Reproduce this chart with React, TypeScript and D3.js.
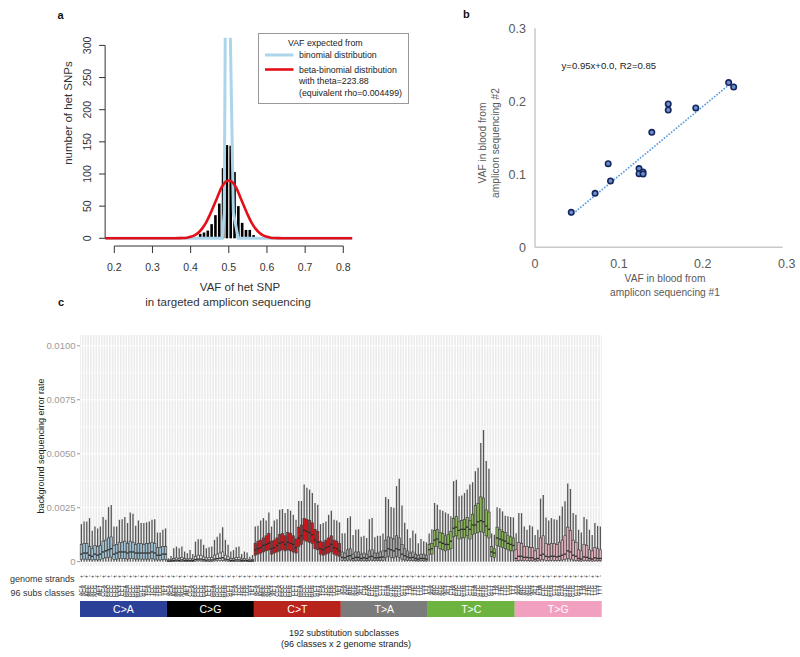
import React, { useEffect, useRef } from "react";
import * as d3 from "d3";

const FONT = "'Liberation Sans', Arial, Helvetica, sans-serif";

// ---- panel a: VAF histogram of het SNPs ----
const histVaf = [0.425, 0.435, 0.445, 0.455, 0.465, 0.475, 0.485, 0.495, 0.505, 0.515, 0.525, 0.535, 0.545, 0.555, 0.565];
const histCounts = [7, 9, 12, 22, 36, 54, 109, 145, 144, 103, 50, 24, 13, 13, 5];
const binomVaf = [0.176, 0.483, 0.488, 0.491, 0.497, 0.503, 0.512, 0.5245, 0.824];
const binomCount = [0, 0, 40, 350, 2000, 350, 40, 0, 0];
const betaVaf = [0.176, 0.36, 0.37, 0.38, 0.39, 0.4, 0.41, 0.42, 0.43, 0.44, 0.45, 0.46, 0.47, 0.48, 0.49, 0.5,
  0.51, 0.52, 0.53, 0.54, 0.55, 0.56, 0.57, 0.58, 0.59, 0.6, 0.61, 0.62, 0.63, 0.64, 0.824];
const betaCount = [0, 0.1, 0.2, 0.4, 0.9, 2.3, 4.7, 8.7, 15, 24, 36, 50, 64, 78, 87, 90,
  87, 78, 64, 50, 36, 24, 15, 8.7, 4.7, 2.3, 0.9, 0.4, 0.2, 0.1, 0];
const vafTicks = [0.2, 0.3, 0.4, 0.5, 0.6, 0.7, 0.8];
const countTicks = [0, 50, 100, 150, 200, 250, 300];
const legendLines = ["binomial distribution", "beta-binomial distribution", "with theta=223.88", "(equivalent rho=0.004499)"];

// ---- panel b: replicate amplicon VAFs ----
const vafRun1 = [0.0432, 0.0716, 0.0872, 0.09, 0.124, 0.124, 0.1288, 0.1288, 0.1392, 0.1588, 0.1588, 0.1916, 0.2308, 0.2368];
const vafRun2 = [0.0479, 0.074, 0.1146, 0.0909, 0.1078, 0.1009, 0.1032, 0.1005, 0.1575, 0.1963, 0.1881, 0.1909, 0.2256, 0.2196];
const trendSlope = 0.95;
const trendIntercept = 0.003;
const scatterTicks = [0, 0.1, 0.2, 0.3];

// ---- panel c: background error rate per substitution subclass (values x 1e-3) ----
const subTypes = ["C>A", "C>G", "C>T", "T>A", "T>C", "T>G"];
const stripColors = ["#2b4199", "#000000", "#b8231b", "#7b7b7b", "#6cb33f", "#f2a0c0"];
const boxFills = ["#a3c2d3", "#e4e4e4", "#c8171d", "#a6a6a6", "#8ab55a", "#e2b3bd"];
const rateTicks = [0, 0.0025, 0.005, 0.0075, 0.01];
const rateTickLabels = ["0", "0.0025", "0.0050", "0.0075", "0.0100"];
const strands = ["+", "-"];
const bases = ["A", "C", "G", "T"];

const caUpper = [1.74, 1.86, 1.86, 2.02, 1.43, 1.63, 1.54, 1.63, 2.07, 1.94, 2.53, 2.62, 1.63, 1.63, 1.94, 1.96, 2.07, 1.79, 2.28, 2.22, 1.66, 1.91, 1.79, 1.79, 1.82, 1.86, 1.94, 1.97, 1.35, 1.35, 1.48, 1.54];
const caQ3 = [0.8, 0.85, 0.85, 0.7, 0.6, 0.75, 0.7, 0.75, 0.95, 1.0, 1.1, 1.15, 0.75, 0.8, 0.9, 0.9, 0.95, 0.85, 0.95, 0.9, 0.8, 0.85, 0.85, 0.8, 0.85, 0.85, 0.9, 0.85, 0.65, 0.65, 0.7, 0.7];
const caMed = [0.35, 0.4, 0.4, 0.3, 0.25, 0.35, 0.3, 0.35, 0.45, 0.5, 0.55, 0.6, 0.35, 0.4, 0.45, 0.45, 0.45, 0.4, 0.45, 0.45, 0.4, 0.4, 0.4, 0.4, 0.4, 0.4, 0.45, 0.4, 0.3, 0.3, 0.35, 0.35];
const caQ1 = [0.1, 0.12, 0.12, 0.1, 0.08, 0.1, 0.08, 0.1, 0.15, 0.18, 0.2, 0.22, 0.1, 0.12, 0.15, 0.15, 0.15, 0.12, 0.15, 0.15, 0.12, 0.12, 0.12, 0.12, 0.12, 0.12, 0.15, 0.12, 0.08, 0.08, 0.1, 0.1];

const cgUpper = [0.16, 0.26, 0.62, 0.7, 0.62, 0.7, 0.47, 0.39, 0.54, 0.36, 0.93, 1.04, 1.04, 0.78, 0.62, 0.67, 0.7, 1.01, 1.16, 1.32, 1.6, 1.01, 0.78, 0.47, 0.54, 0.67, 0.7, 0.36, 0.47, 0.42, 0.23, 0.31];
const cgQ3 = [0.08, 0.1, 0.15, 0.18, 0.15, 0.2, 0.15, 0.12, 0.15, 0.12, 0.25, 0.3, 0.3, 0.22, 0.18, 0.2, 0.2, 0.3, 0.35, 0.4, 0.45, 0.3, 0.22, 0.15, 0.15, 0.2, 0.2, 0.12, 0.15, 0.12, 0.08, 0.1];
const cgMed = [0.03, 0.04, 0.06, 0.07, 0.06, 0.08, 0.06, 0.05, 0.06, 0.05, 0.1, 0.12, 0.12, 0.09, 0.07, 0.08, 0.08, 0.12, 0.14, 0.16, 0.18, 0.12, 0.09, 0.06, 0.06, 0.08, 0.08, 0.05, 0.06, 0.05, 0.03, 0.04];
const cgQ1 = [0.01, 0.01, 0.02, 0.02, 0.02, 0.02, 0.02, 0.01, 0.02, 0.01, 0.03, 0.04, 0.04, 0.03, 0.02, 0.02, 0.02, 0.04, 0.05, 0.05, 0.06, 0.04, 0.03, 0.02, 0.02, 0.02, 0.02, 0.01, 0.02, 0.01, 0.01, 0.01];

const ctUpper = [1.63, 1.66, 1.91, 2.02, 1.91, 2.28, 1.63, 1.91, 1.97, 2.41, 2.44, 2.25, 2.44, 2.36, 2.17, 1.94, 2.81, 2.81, 3.57, 3.42, 3.34, 3.18, 2.72, 2.64, 1.74, 1.79, 1.86, 2.17, 2.36, 1.94, 1.91, 1.82];
const ctQ3 = [0.85, 0.95, 1.0, 1.1, 1.2, 1.3, 0.95, 1.0, 1.1, 1.25, 1.3, 1.2, 1.35, 1.3, 1.2, 1.05, 1.6, 1.7, 2.0, 1.95, 1.9, 1.8, 1.5, 1.4, 0.95, 0.9, 1.0, 1.1, 1.2, 1.0, 0.95, 0.85];
const ctMed = [0.55, 0.6, 0.65, 0.75, 0.8, 0.85, 0.6, 0.65, 0.75, 0.85, 0.9, 0.8, 0.9, 0.85, 0.8, 0.65, 1.1, 1.2, 1.45, 1.4, 1.35, 1.25, 1.0, 0.9, 0.6, 0.55, 0.65, 0.7, 0.8, 0.65, 0.6, 0.5];
const ctQ1 = [0.3, 0.35, 0.4, 0.45, 0.5, 0.55, 0.35, 0.4, 0.45, 0.5, 0.55, 0.5, 0.55, 0.5, 0.45, 0.4, 0.7, 0.8, 1.0, 0.95, 0.9, 0.85, 0.6, 0.55, 0.35, 0.3, 0.35, 0.4, 0.45, 0.35, 0.3, 0.25];

const taUpper = [1.32, 1.32, 2.02, 2.1, 1.24, 1.48, 1.5, 1.16, 1.2, 1.1, 1.97, 2.02, 1.13, 1.2, 1.2, 1.3, 3.0, 2.9, 2.53, 2.5, 3.5, 3.84, 2.6, 1.8, 1.5, 1.1, 1.45, 1.3, 0.85, 1.05, 0.95, 0.9];
const taQ3 = [0.45, 0.4, 0.55, 0.6, 0.35, 0.45, 0.45, 0.35, 0.4, 0.35, 0.5, 0.55, 0.4, 0.4, 0.45, 0.5, 1.0, 1.15, 1.1, 1.05, 1.2, 1.1, 0.8, 0.6, 0.5, 0.4, 0.45, 0.35, 0.3, 0.35, 0.35, 0.3];
const taMed = [0.2, 0.18, 0.25, 0.28, 0.15, 0.2, 0.2, 0.15, 0.18, 0.15, 0.22, 0.25, 0.18, 0.18, 0.2, 0.22, 0.5, 0.6, 0.55, 0.5, 0.6, 0.55, 0.35, 0.28, 0.22, 0.18, 0.2, 0.15, 0.12, 0.15, 0.15, 0.12];
const taQ1 = [0.05, 0.05, 0.07, 0.08, 0.04, 0.05, 0.05, 0.04, 0.05, 0.04, 0.06, 0.07, 0.05, 0.05, 0.05, 0.06, 0.2, 0.25, 0.2, 0.18, 0.25, 0.2, 0.12, 0.08, 0.06, 0.05, 0.05, 0.04, 0.03, 0.04, 0.04, 0.03];

const tcUpper = [1.3, 1.5, 2.72, 2.64, 2.41, 2.36, 2.28, 2.22, 2.1, 3.73, 3.8, 3.03, 3.06, 3.18, 3.34, 3.57, 3.68, 4.19, 4.35, 5.5, 6.1, 4.66, 4.3, 1.3, 1.25, 2.52, 2.48, 2.33, 2.13, 2.1, 2.07, 2.05];
const tcQ3 = [0.8, 0.85, 1.45, 1.5, 1.35, 1.3, 1.2, 1.25, 1.4, 2.0, 2.1, 1.85, 1.9, 1.95, 2.05, 1.9, 2.2, 2.6, 2.7, 3.0, 2.95, 2.4, 2.3, 0.7, 0.6, 1.6, 1.5, 1.4, 1.35, 1.2, 1.15, 1.1];
const tcMed = [0.55, 0.6, 1.0, 1.05, 0.9, 0.85, 0.8, 0.8, 0.95, 1.55, 1.6, 1.45, 1.5, 1.5, 1.6, 1.5, 1.7, 1.7, 1.85, 1.9, 1.85, 1.65, 1.5, 0.45, 0.4, 1.1, 1.05, 1.0, 0.95, 0.85, 0.8, 0.75];
const tcQ1 = [0.35, 0.35, 0.7, 0.7, 0.6, 0.55, 0.5, 0.55, 0.6, 1.15, 1.2, 1.05, 1.1, 1.1, 1.2, 1.05, 1.25, 1.3, 1.35, 1.4, 1.35, 1.2, 1.1, 0.25, 0.2, 0.75, 0.7, 0.65, 0.6, 0.55, 0.5, 0.5];

const tgUpper = [1.32, 2.25, 2.25, 1.63, 1.48, 1.69, 1.63, 1.24, 1.48, 2.92, 3.09, 2.05, 1.91, 2.02, 1.97, 1.94, 2.13, 2.56, 2.8, 3.62, 3.37, 2.25, 2.17, 1.48, 1.35, 2.07, 1.97, 1.48, 1.24, 1.79, 1.66, 1.63];
const tgQ3 = [0.55, 0.9, 0.85, 0.7, 0.7, 0.65, 0.65, 0.5, 0.6, 1.1, 1.2, 0.85, 0.8, 0.85, 0.85, 0.8, 0.9, 1.0, 1.2, 1.6, 1.45, 1.0, 0.9, 0.55, 0.5, 0.8, 0.75, 0.55, 0.5, 0.65, 0.6, 0.55];
const tgMed = [0.15, 0.25, 0.25, 0.2, 0.2, 0.18, 0.18, 0.12, 0.15, 0.3, 0.35, 0.25, 0.22, 0.25, 0.25, 0.22, 0.25, 0.3, 0.35, 0.5, 0.45, 0.3, 0.25, 0.15, 0.12, 0.22, 0.2, 0.15, 0.12, 0.18, 0.15, 0.15];
const tgQ1 = [0.04, 0.06, 0.06, 0.05, 0.05, 0.04, 0.04, 0.03, 0.04, 0.08, 0.1, 0.06, 0.05, 0.06, 0.06, 0.05, 0.06, 0.08, 0.1, 0.15, 0.12, 0.08, 0.06, 0.04, 0.03, 0.05, 0.05, 0.04, 0.03, 0.04, 0.04, 0.04];

const upperSets = [caUpper, cgUpper, ctUpper, taUpper, tcUpper, tgUpper];
const q3Sets = [caQ3, cgQ3, ctQ3, taQ3, tcQ3, tgQ3];
const medSets = [caMed, cgMed, ctMed, taMed, tcMed, tgMed];
const q1Sets = [caQ1, cgQ1, ctQ1, taQ1, tcQ1, tgQ1];
const RATE_UNIT = 0.001;

function drawHistogram(g: any) {
  const x = d3.scaleLinear().domain([0.2, 0.8]).range([114.3, 343.3]);
  const y = d3.scaleLinear().domain([0, 300]).range([238.3, 45.4]);
  const left = x(0.176), right = x(0.824), top = y(312), bottom = y(-12);

  g.append("clipPath").attr("id", "clip-a")
    .append("rect").attr("x", left).attr("y", top).attr("width", right - left).attr("height", bottom - top);
  const plot = g.append("g").attr("clip-path", "url(#clip-a)");

  plot.selectAll("rect").data(histCounts).join("rect")
    .attr("x", (d: number, i: number) => x(histVaf[i]) - 1.3)
    .attr("width", 2.6)
    .attr("y", (d: number) => y(d))
    .attr("height", (d: number) => y(0) - y(d))
    .attr("fill", "#000");

  const line = d3.line<[number, number]>().x(d => x(d[0])).y(d => y(d[1]));
  plot.append("path")
    .attr("d", line(d3.zip(binomVaf, binomCount) as any))
    .attr("fill", "none").attr("stroke", "#acd5ea").attr("stroke-width", 3);
  plot.append("path")
    .attr("d", line.curve(d3.curveMonotoneX)(d3.zip(betaVaf, betaCount) as any))
    .attr("fill", "none").attr("stroke", "#e3101a").attr("stroke-width", 2.6);

  // axes, R base style
  const ax = g.append("g").attr("font-family", FONT).attr("fill", "#333");
  ax.append("line").attr("x1", left).attr("x2", left).attr("y1", y(0)).attr("y2", y(300)).attr("stroke", "#333");
  countTicks.forEach(t => {
    ax.append("line").attr("x1", left - 6).attr("x2", left).attr("y1", y(t)).attr("y2", y(t)).attr("stroke", "#333");
    ax.append("text").attr("transform", `translate(${left - 14},${y(t)}) rotate(-90)`)
      .attr("text-anchor", "middle").attr("font-size", 10.5).text(t);
  });
  ax.append("line").attr("x1", x(0.2)).attr("x2", x(0.8)).attr("y1", bottom).attr("y2", bottom).attr("stroke", "#333");
  vafTicks.forEach(t => {
    ax.append("line").attr("x1", x(t)).attr("x2", x(t)).attr("y1", bottom).attr("y2", bottom + 7).attr("stroke", "#333");
    ax.append("text").attr("x", x(t)).attr("y", bottom + 25).attr("text-anchor", "middle")
      .attr("font-size", 10.5).text(d3.format(".1f")(t));
  });
  ax.append("text").attr("transform", `translate(72,113) rotate(-90)`).attr("text-anchor", "middle")
    .attr("font-size", 11.5).text("number of het SNPs");
  ax.append("text").attr("x", 240).attr("y", 291).attr("text-anchor", "middle").attr("font-size", 11.5).text("VAF of het SNP");
  ax.append("text").attr("x", 228).attr("y", 306).attr("text-anchor", "middle").attr("font-size", 11.5).text("in targeted amplicon sequencing");

  // legend
  const lg = g.append("g").attr("font-family", FONT).attr("font-size", 8.8).attr("fill", "#222");
  lg.append("rect").attr("x", 258.5).attr("y", 33.5).attr("width", 150).attr("height", 70)
    .attr("fill", "#fff").attr("stroke", "#999");
  lg.append("text").attr("x", 288).attr("y", 46).text("VAF expected from");
  lg.append("line").attr("x1", 265).attr("x2", 293.5).attr("y1", 55).attr("y2", 55).attr("stroke", "#acd5ea").attr("stroke-width", 3);
  lg.append("line").attr("x1", 265).attr("x2", 293.5).attr("y1", 69.5).attr("y2", 69.5).attr("stroke", "#e3101a").attr("stroke-width", 2.6);
  [58.3, 72.5, 84.3, 96].forEach((yy, i) => {
    lg.append("text").attr("x", 299).attr("y", yy).text(legendLines[i]);
  });
}

function drawScatter(g: any) {
  const x = d3.scaleLinear().domain([0, 0.3]).range([535, 786.7]);
  const y = d3.scaleLinear().domain([0, 0.3]).range([247.3, 28.3]);
  const ax = g.append("g").attr("font-family", FONT).attr("fill", "#595959");
  ax.append("line").attr("x1", x(0)).attr("x2", x(0)).attr("y1", y(0)).attr("y2", y(0.3)).attr("stroke", "#c9c9c9").attr("stroke-width", 1.5);
  ax.append("line").attr("x1", x(0)).attr("x2", 782.7).attr("y1", y(0)).attr("y2", y(0)).attr("stroke", "#c9c9c9").attr("stroke-width", 1.5);
  scatterTicks.forEach(t => {
    const lab = t === 0 ? "0" : d3.format(".1f")(t);
    ax.append("text").attr("x", 526).attr("y", y(t) + 4.5).attr("text-anchor", "end").attr("font-size", 12.5).text(lab);
    ax.append("text").attr("x", x(t)).attr("y", 267.5).attr("text-anchor", "middle").attr("font-size", 12.5).text(lab);
  });
  ax.append("text").attr("x", 665).attr("y", 281.5).attr("text-anchor", "middle").attr("font-size", 10.2).text("VAF in blood from");
  ax.append("text").attr("x", 665).attr("y", 296).attr("text-anchor", "middle").attr("font-size", 10.2).text("amplicon sequencing #1");
  ax.append("text").attr("transform", "translate(485.5,143) rotate(-90)").attr("text-anchor", "middle").attr("font-size", 10.2).text("VAF in blood from");
  ax.append("text").attr("transform", "translate(499,143) rotate(-90)").attr("text-anchor", "middle").attr("font-size", 10.2).text("amplicon sequencing #2");

  const x0 = d3.min(vafRun1)!, x1 = d3.max(vafRun1)!;
  g.append("line")
    .attr("x1", x(x0)).attr("y1", y(trendSlope * x0 + trendIntercept))
    .attr("x2", x(x1)).attr("y2", y(trendSlope * x1 + trendIntercept))
    .attr("stroke", "#5b9ae0").attr("stroke-width", 1.8).attr("stroke-dasharray", "0.1,3").attr("stroke-linecap", "round");

  g.selectAll("circle").data(vafRun1).join("circle")
    .attr("cx", (d: number) => x(d)).attr("cy", (d: number, i: number) => y(vafRun2[i])).attr("r", 2.7)
    .attr("fill", "#6d8fcf").attr("stroke", "#16275e").attr("stroke-width", 1.6);

  g.append("text").attr("x", 561.5).attr("y", 69).attr("font-family", FONT).attr("font-size", 9.6).attr("fill", "#222")
    .text(`y=${trendSlope}x+0.0, R2=0.85`);
}

function drawBoxes(g: any) {
  const n = subTypes.length * 32;
  const x = d3.scaleBand<number>().domain(d3.range(n)).range([80, 601.7]);
  const y = d3.scaleLinear().domain([-0.0002, 0.0105]).range([566, 335]);
  const bw = x.bandwidth();
  const cx = (k: number) => x(k)! + bw / 2;
  const half = bw * 0.44;

  g.append("rect").attr("x", 80).attr("y", 335).attr("width", 521.7).attr("height", 231).attr("fill", "#ebebeb");
  [0.00125, 0.00375, 0.00625, 0.00875].forEach(v => {
    g.append("line").attr("x1", 80).attr("x2", 601.7).attr("y1", y(v)).attr("y2", y(v)).attr("stroke", "#fff").attr("stroke-width", 0.5);
  });
  rateTicks.forEach(v => {
    g.append("line").attr("x1", 80).attr("x2", 601.7).attr("y1", y(v)).attr("y2", y(v)).attr("stroke", "#fff").attr("stroke-width", 1.1);
  });
  g.append("g").selectAll("line").data(d3.range(n)).join("line")
    .attr("x1", (k: number) => cx(k)).attr("x2", (k: number) => cx(k)).attr("y1", 335).attr("y2", 566)
    .attr("stroke", "#fff").attr("stroke-width", 1.1);

  // y axis
  const ax = g.append("g").attr("font-family", FONT);
  rateTicks.forEach((v, i) => {
    ax.append("line").attr("x1", 77).attr("x2", 80).attr("y1", y(v)).attr("y2", y(v)).attr("stroke", "#999");
    ax.append("text").attr("x", 75.5).attr("y", y(v) + 3.3).attr("text-anchor", "end")
      .attr("font-size", 9.5).attr("fill", "#9a9a9a").text(rateTickLabels[i]);
  });
  ax.append("text").attr("transform", "translate(43.5,446) rotate(-90)").attr("text-anchor", "middle")
    .attr("font-size", 9).attr("fill", "#222").text("background sequencing error rate");

  // boxplots
  const boxes = g.append("g");
  subTypes.forEach((s, gi) => {
    for (let i = 0; i < 32; i++) {
      const k = gi * 32 + i;
      const c = cx(k);
      const up = upperSets[gi][i] * RATE_UNIT, q3 = q3Sets[gi][i] * RATE_UNIT;
      const md = medSets[gi][i] * RATE_UNIT, q1 = q1Sets[gi][i] * RATE_UNIT;
      boxes.append("line").attr("x1", c).attr("x2", c).attr("y1", y(0)).attr("y2", y(up))
        .attr("stroke", "#555").attr("stroke-width", 1.3);
      boxes.append("rect").attr("x", c - half).attr("width", half * 2)
        .attr("y", y(q3)).attr("height", Math.max(0.8, y(q1) - y(q3)))
        .attr("fill", boxFills[gi]).attr("stroke", "#3a3a3a").attr("stroke-width", 0.6);
      boxes.append("line").attr("x1", c - half).attr("x2", c + half).attr("y1", y(md)).attr("y2", y(md))
        .attr("stroke", "#2a2a2a").attr("stroke-width", 1.3);
    }
  });

  // x labels: strands and trinucleotide contexts
  const lab = g.append("g").attr("font-family", FONT).attr("fill", "#333");
  lab.append("text").attr("x", 74.5).attr("y", 581.5).attr("text-anchor", "end").attr("font-size", 9).text("genome strands");
  lab.append("text").attr("x", 74.5).attr("y", 595.5).attr("text-anchor", "end").attr("font-size", 9).text("96 subs classes");
  subTypes.forEach((s, gi) => {
    const ref = s[0], k0 = gi * 32;
    let i = 0;
    bases.forEach(b5 => bases.forEach(b3 => {
      strands.forEach(st => {
        const c = cx(k0 + i);
        lab.append("text").attr("transform", `translate(${c + 1.6},575) rotate(-90)`)
          .attr("text-anchor", "end").attr("font-size", 6).text(st);
        lab.append("text").attr("transform", `translate(${c + 1.9},585) rotate(-90)`)
          .attr("text-anchor", "end").attr("font-size", 5.5).text(`${b5}${ref}${b3}`);
        i++;
      });
    }));
  });

  // substitution type strip
  subTypes.forEach((s, gi) => {
    const x0 = x(gi * 32)!, x1 = x(gi * 32 + 31)! + bw;
    g.append("rect").attr("x", x0).attr("y", 601).attr("width", x1 - x0).attr("height", 16).attr("fill", stripColors[gi]);
    g.append("text").attr("x", (x0 + x1) / 2).attr("y", 613).attr("text-anchor", "middle")
      .attr("font-family", FONT).attr("font-size", 10.5).attr("fill", "#fff").text(s);
  });
  g.append("text").attr("x", 344).attr("y", 635.5).attr("text-anchor", "middle").attr("font-family", FONT)
    .attr("font-size", 9).attr("fill", "#222").text("192 substitution subclasses");
  g.append("text").attr("x", 346).attr("y", 647).attr("text-anchor", "middle").attr("font-family", FONT)
    .attr("font-size", 9).attr("fill", "#222").text("(96 classes x 2 genome strands)");
}

export default function App() {
  const svgRef = useRef<SVGSVGElement>(null);

  useEffect(() => {
    const svg = d3.select(svgRef.current);
    svg.selectAll("*").remove();

    // panel letters
    const letters = svg.append("g").attr("font-family", FONT).attr("font-weight", "bold").attr("font-size", 11).attr("fill", "#111");
    letters.append("text").attr("x", 57.5).attr("y", 19).text("a");
    letters.append("text").attr("x", 463).attr("y", 18).text("b");
    letters.append("text").attr("x", 58).attr("y", 306).text("c");

    drawHistogram(svg.append("g"));
    drawScatter(svg.append("g"));
    drawBoxes(svg.append("g"));

    return () => {
      d3.select(svgRef.current).selectAll("*").remove();
    };
  }, []);

  return (
    <div style={{ position: "absolute", left: 0, top: 0 }}>
      <svg ref={svgRef} width={800} height={657} style={{ display: "block", background: "#fff" }} />
    </div>
  );
}
